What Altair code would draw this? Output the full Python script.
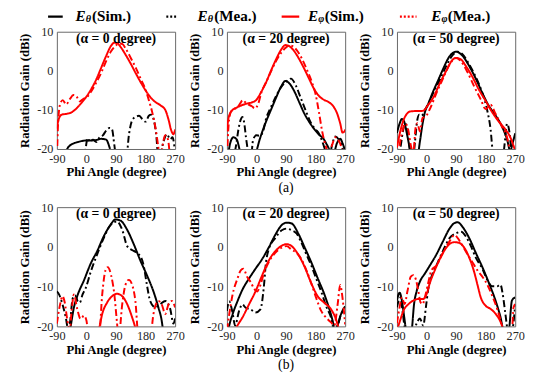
import altair as alt
import pandas as pd

SERIF = "Liberation Serif, Times New Roman, DejaVu Serif, serif"
SERIES = ["Eθ (Sim.)", "Eθ (Mea.)", "Eφ (Sim.)", "Eφ (Mea.)"]
COLORS = ["#000000", "#000000", "#ff0000", "#ff0000"]
DASHES = [[1, 0], [7, 3, 2, 3], [1, 0], [7, 3, 2, 3]]
X_TICKS = [-90, 0, 90, 180, 270]
Y_TICKS = [-20, -10, 0, 10]

# ---------------- (a) alpha = 0 ----------------
a1_ts_x = [-70, -55, -40, -25, -10, 0, 15, 30, 45, 60, 70, 80]
a1_ts_y = [-22, -19.5, -18.6, -18.2, -17.9, -17.8, -17.8, -17.7, -17.4, -17.6, -19.5, -23]
a1_tm_x = [-5, 0, 5, 10, 20, 30, 40, 50, 60, 70, 78, 85, 92, 120, 130, 140, 150, 160, 170, 180, 190, 197, 205, 212, 220, 235, 245, 255, 262, 270]
a1_tm_y = [-23, -18.5, -17.2, -18.2, -17.6, -18.2, -17.0, -16.5, -15.3, -14.6, -15.0, -19, -23, -23, -16, -12.5, -11.8, -11.5, -12.3, -13.0, -11.5, -11.2, -12.5, -16, -23, -18, -16.2, -17.5, -17, -21]
a1_ps_x = [-90, -85, -75, -60, -45, -30, -15, 0, 15, 30, 45, 60, 75, 85, 95, 105, 120, 135, 150, 165, 180, 195, 210, 225, 240, 250, 258, 265, 270]
a1_ps_y = [-14.8, -12.5, -11.2, -11.0, -10.6, -9.6, -8.2, -6.6, -4.6, -2.2, 0.8, 3.8, 6.4, 7.2, 7.0, 6.0, 4.0, 1.8, -0.6, -2.9, -5.0, -6.8, -8.0, -8.8, -10.0, -12.5, -15.2, -16.2, -15]
a1_pm_x = [-90, -86, -80, -72, -62, -50, -40, -30, -20, -10, 0, 15, 30, 45, 60, 75, 90, 100, 110, 120, 135, 150, 165, 180, 190, 200, 210, 218, 225, 232, 240, 248, 255]
a1_pm_y = [-23, -13, -8.5, -7.5, -8.6, -7.2, -6.2, -6.6, -7.8, -7.2, -6.8, -5.2, -3.0, -0.5, 2.5, 5.0, 6.5, 7.0, 6.8, 5.6, 3.3, 0.8, -2.0, -4.8, -7.5, -10.5, -14.5, -19, -23, -19, -16.5, -17.5, -23]

# ---------------- (a) alpha = 20 ----------------
a2_ts_x = [-88, -80, -70, -60, -52, -45, -20, -2, 10, 20, 30, 45, 60, 75, 88, 100, 115, 130, 145, 160, 175, 190, 205, 215, 225, 235, 245, 255, 262, 270]
a2_ts_y = [-23, -18.5, -17.0, -17.6, -20, -23, -23, -21, -17.5, -15.0, -12.8, -9.8, -6.8, -4.0, -2.6, -3.2, -5.2, -8.0, -10.8, -13.0, -14.8, -16.3, -17.5, -19, -20.5, -21, -18.5, -17.4, -18.5, -20.5]
a2_tm_x = [-88, -75, -62, -55, -48, -43, -38, -32, -26, -18, -10, 0, 10, 20, 30, 40, 50, 60, 75, 90, 105, 120, 135, 150, 165, 180, 190, 200, 210, 220, 230, 240, 250, 260, 268]
a2_tm_y = [-23, -23, -19, -15, -12.5, -11.8, -13.0, -17, -20.5, -23, -17.5, -16.5, -16.6, -15.5, -12.0, -10, -8.2, -6.4, -4.2, -2.8, -2.0, -3.8, -7.0, -10.2, -13.2, -15.0, -16.0, -18, -20.5, -23, -19, -16.8, -17.5, -19, -23]
a2_ps_x = [-90, -85, -75, -60, -45, -30, -15, 0, 15, 30, 45, 60, 75, 88, 100, 115, 130, 145, 160, 175, 190, 205, 220, 235, 245, 255, 262, 268, 270]
a2_ps_y = [-15.5, -12, -10.2, -9.4, -8.8, -8.4, -8.1, -7.4, -5.3, -2.8, 0.2, 3.0, 5.4, 6.6, 6.3, 5.0, 3.0, 0.6, -2.0, -4.6, -6.4, -7.4, -8.0, -9.2, -10.8, -13.5, -15.8, -15.5, -15]
a2_pm_x = [-90, -85, -78, -70, -60, -50, -42, -35, -25, -15, -5, 5, 15, 30, 45, 60, 75, 90, 100, 110, 125, 140, 155, 170, 180, 190, 200, 210, 220, 230, 240, 250, 258, 265]
a2_pm_y = [-23, -14, -10.5, -9.8, -9.5, -8.4, -7.5, -8.0, -8.6, -9.0, -9.6, -8.5, -5.5, -2.8, 0.0, 2.6, 4.6, 6.0, 6.5, 6.3, 5.0, 2.8, 0.0, -3.2, -6.0, -10.5, -15.5, -19, -21, -19, -17, -17.8, -19.5, -23]

# ---------------- (a) alpha = 50 ----------------
a3_ts_x = [-90, -82, -75, -68, -60, -52, -45, -30, -20, -12, -5, 5, 20, 35, 50, 70, 90, 110, 130, 150, 170, 190, 210, 230, 245, 255, 262, 270]
a3_ts_y = [-15.9, -13.5, -12.3, -13.0, -16, -19.5, -23, -23, -18, -13.5, -10.6, -8.5, -5.3, -2.5, 0.4, 3.7, 4.9, 3.8, 1.2, -2.0, -5.7, -9.0, -11.4, -14.3, -17.5, -20.5, -18.5, -16]
a3_tm_x = [-90, -80, -72, -65, -58, -50, -42, -35, -28, -22, -15, -5, 5, 20, 40, 60, 80, 95, 110, 130, 150, 170, 185, 195, 202, 210, 230, 240, 245, 252, 260]
a3_tm_y = [-23, -20, -15.5, -13.4, -16, -20.5, -23, -18, -12.5, -11.2, -11.5, -10.0, -8.5, -5.7, -2.4, 1.2, 4.1, 4.9, 4.2, 1.6, -1.6, -5.7, -10.2, -15, -21, -23, -23, -17, -13.5, -15.5, -23]
a3_ps_x = [-90, -80, -70, -60, -50, -35, -20, -10, 5, 20, 40, 60, 80, 90, 105, 120, 140, 160, 180, 200, 220, 240, 255, 265, 270]
a3_ps_y = [-19.6, -15.5, -12.6, -11, -10.4, -10.3, -10.3, -10.2, -8.7, -6.9, -3.3, 0, 2.9, 3.3, 2.9, 1.2, -1.6, -4.9, -7.7, -10.6, -13, -15, -17, -19.2, -20.5]
a3_pm_x = [-88, -80, -72, -64, -56, -48, -40, -34, -28, -20, -12, -4, 10, 30, 50, 70, 90, 105, 125, 145, 165, 180, 188, 195, 210, 230, 245, 255]
a3_pm_y = [-23, -18, -15, -13.5, -15, -19, -21, -15, -13.4, -15.5, -12, -11.8, -9.8, -5.7, -2, 1.6, 3.3, 2.4, -0.4, -4, -7.3, -9.8, -9.2, -8.7, -11, -14.3, -17, -21]

# ---------------- (b) alpha = 0 ----------------
b1_ts_x = [-55, -48, -38, -28, -7, 13, 33, 53, 73, 88, 104, 124, 144, 164, 184, 204, 219, 229, 236]
b1_ts_y = [-23, -20, -15.2, -12.4, -8.3, -4.2, -1.0, 2.7, 5.5, 6.9, 6.6, 4.3, 0.7, -3.4, -7.1, -11.2, -15.2, -18.5, -23]
b1_tm_x = [-90, -83, -73, -63, -56, -50, -42, -34, -27, -20, -12, -2, 13, 33, 53, 73, 93, 109, 124, 144, 159, 174, 184, 194, 209, 225, 240, 255, 265, 270]
b1_tm_y = [-11.2, -12, -14.4, -17.7, -20.5, -19, -13, -12.2, -13.6, -14, -12, -10.3, -6.3, -1.8, 2.3, 5.5, 6.4, 4.3, 0.2, -1, -1.8, -4.6, -9.5, -13.6, -15.2, -14.4, -13.6, -15.6, -19.3, -18]
b1_ps_x = [30, 40, 48, 63, 78, 93, 109, 124, 139, 149, 155]
b1_ps_y = [-23, -20, -16.9, -14, -12.4, -11.8, -12.4, -14.4, -17.7, -20.5, -23]
b1_pm_x = [-90, -80, -73, -66, -58, -51, -44, -38, -28, -18, -7, 0, 8, 38, 48, 58, 65, 75, 85, 93, 98, 109, 119, 129, 139, 149, 159, 194, 204, 219, 229, 240, 250, 260, 270]
b1_pm_y = [-19.3, -14.4, -12.4, -14, -18.5, -21, -15, -12, -15.6, -18.1, -17.3, -18.5, -23, -23, -12, -5.9, -5.1, -7.1, -12, -19, -23, -14.4, -9.5, -8.3, -9.5, -13.6, -23, -23, -16.9, -13.6, -14.4, -16.9, -14.4, -13.6, -15.2]

# ---------------- (b) alpha = 20 ----------------
b2_ts_x = [-90, -83, -73, -58, -43, -23, -3, 17, 37, 57, 77, 92, 107, 127, 147, 167, 187, 207, 222, 232, 239, 248, 257, 267, 270]
b2_ts_y = [-23, -19.8, -17, -13.7, -10.8, -8, -5.5, -3.1, -0.2, 3.0, 5.5, 6.1, 5.9, 3.4, -0.2, -3.9, -8, -12, -15.7, -18.6, -21, -19.5, -17, -15.3, -15]
b2_tm_x = [-90, -83, -73, -65, -53, -43, -33, -18, -3, 12, 22, 29, 37, 57, 77, 92, 107, 122, 137, 152, 167, 182, 197, 212, 227, 237, 247, 257, 267, 270]
b2_tm_y = [-16.1, -13.7, -16.5, -19.8, -16.1, -14.5, -15.3, -15.7, -16.5, -15.7, -10.4, -3.9, -0.7, 2.2, 4.2, 4.6, 4.2, 3.4, 1.0, -1.9, -4.7, -8, -11.2, -14.9, -17.8, -21, -19.8, -17, -16.1, -16]
b2_ps_x = [-90, -84, -75, -58, -43, -23, -3, 17, 37, 57, 77, 92, 107, 127, 147, 167, 187, 207, 227, 242, 252, 260]
b2_ps_y = [-19.4, -21, -23, -19.8, -17.8, -14.5, -11.2, -7.2, -3.5, -1.1, 0.3, 0.7, 0.2, -1.9, -5.1, -9.2, -12.5, -14.1, -15.7, -18.2, -21, -23]
b2_pm_x = [-90, -83, -73, -58, -48, -40, -28, -18, -8, 2, 12, 22, 37, 57, 77, 92, 107, 122, 137, 152, 167, 182, 197, 212, 227, 237, 247, 255, 262, 270]
b2_pm_y = [-21, -17, -12.1, -8, -5.9, -5.5, -7.6, -8.8, -10.4, -11.2, -9.6, -6.8, -3.9, -1.5, -0.2, 0.2, -0.7, -1.5, -3.1, -5.9, -9.2, -12.9, -16.1, -17.8, -19, -19.8, -14.5, -9.6, -12.9, -19.5]

# ---------------- (b) alpha = 50 ----------------
b3_ts_x = [-90, -82, -75, -68, -62, -50, -45, -38, -30, -20, -5, 10, 30, 50, 70, 85, 95, 110, 130, 150, 170, 190, 210, 225, 235, 250, 260, 270]
b3_ts_y = [-13.5, -11.5, -13.5, -17.6, -21, -23, -21, -14.4, -11.1, -8.7, -6.7, -4.7, -1.9, 1.4, 4.6, 6.0, 6.2, 5.0, 2.2, -1.5, -5.1, -9.1, -13.5, -17.6, -21, -21, -13.5, -12.7]
b3_tm_x = [-90, -80, -72, -65, -45, -30, -20, -10, -2, 5, 15, 30, 50, 70, 90, 105, 120, 135, 150, 170, 185, 200, 215, 225, 232, 240, 248, 260, 270]
b3_tm_y = [-15.2, -12.7, -16.8, -21, -23, -19.2, -18, -19.8, -15.2, -10.7, -7.5, -4.7, -1, 2.2, 3.4, 3.8, 2.6, 0.2, -2.7, -5.5, -8.3, -9.9, -9.9, -9.5, -11.9, -16.8, -21, -21, -14.4]
b3_ps_x = [-90, -80, -70, -55, -40, -25, -10, 0, 10, 25, 40, 60, 75, 85, 100, 115, 130, 145, 155, 165, 180, 195, 210, 225, 235, 245]
b3_ps_y = [-21, -18.4, -16, -14.4, -13.5, -13.1, -13.1, -11.9, -9.1, -5.9, -3.1, -0.2, 1.0, 1.2, 1.0, -0.2, -2.7, -6.3, -9.5, -12.7, -14.8, -15.6, -16.8, -18.8, -21, -23]
b3_pm_x = [-90, -82, -75, -67, -58, -48, -40, -32, -25, -18, -12, -5, 5, 15, 30, 50, 70, 85, 95, 110, 125, 140, 155, 170, 185, 200, 215, 225, 232, 245, 260, 265, 270]
b3_pm_y = [-19.2, -15.2, -12.7, -14.4, -11.1, -7.5, -7.1, -8.3, -11.1, -14, -14.4, -12.7, -9.1, -5.9, -4.7, -1.5, 1.4, 3.0, 2.2, 0.2, -1.9, -3.9, -5.9, -7.5, -9.5, -12.3, -15.6, -18.4, -21, -23, -21, -15.2, -14.4]

ALPHAS = [0, 20, 50, 0, 20, 50]
SUB_LABELS = ["(a)", "(b)"]

W = 121
HEIGHTS = [120, 120, 120, 122, 122, 122]
xs = alt.Scale(domain=[-90, 270], nice=False, zero=False)
ys = alt.Scale(domain=[-20, 10], nice=False, zero=False)
cs = alt.Scale(domain=SERIES, range=COLORS)
ds = alt.Scale(domain=SERIES, range=DASHES)


def panel_df(p):
    g = globals()
    parts = []
    for key, name in zip(["ts", "tm", "ps", "pm"], SERIES):
        parts.append(pd.DataFrame({"phi": g[f"{p}_{key}_x"], "gain": g[f"{p}_{key}_y"], "series": name}))
    return pd.concat(parts, ignore_index=True)


def text_layer(txt, x, y, size, weight="bold", style="normal", align="center", color="black"):
    return alt.Chart(pd.DataFrame({"t": [txt]})).mark_text(
        font=SERIF, fontSize=size, fontWeight=weight, fontStyle=style,
        align=align, baseline="middle", color=color
    ).encode(text="t:N", x=alt.value(x), y=alt.value(y))


def legend_layers():
    ly = -15.5
    items = [  # (series, line x1, line x2, text x, subscript, measured)
        (SERIES[0], -9, 6, 19, "θ", False),
        (SERIES[1], 112, 122, 144, "θ", True),
        (SERIES[2], 230, 248, 257, "φ", False),
        (SERIES[3], 351, 368, 383, "φ", True),
    ]
    layers = []
    for s, x1, x2, tx, sub, dotted in items:
        rule = alt.Chart(pd.DataFrame({"series": [s]})).mark_rule(strokeWidth=2.2).encode(
            x=alt.value(x1), x2=alt.value(x2), y=alt.value(ly),
            color=alt.Color("series:N", scale=cs, legend=None),
            strokeDash=alt.value([2, 2] if dotted else [1, 0]),
        )
        layers.append(rule)
        layers.append(text_layer("E", tx, ly, 15.5, style="italic", align="left"))
        layers.append(text_layer(sub, tx + 10.5, ly + 3, 10.5, style="italic", align="left"))
        layers.append(text_layer("(Mea.)" if dotted else "(Sim.)", tx + 17, ly, 15.5, align="left"))
    return layers


def panel(i):
    p = ["a1", "a2", "a3", "b1", "b2", "b3"][i]
    H = HEIGHTS[i]
    df = panel_df(p)
    lines = alt.Chart(df).mark_line(clip=True, strokeWidth=2, interpolate="monotone").encode(
        x=alt.X("phi:Q", scale=xs, axis=alt.Axis(values=X_TICKS, title="Phi Angle (degree)")),
        y=alt.Y("gain:Q", scale=ys, axis=alt.Axis(values=Y_TICKS, title="Radiation Gain (dBi)")),
        color=alt.Color("series:N", scale=cs, legend=None),
        strokeDash=alt.StrokeDash("series:N", scale=ds, legend=None),
        detail="series:N",
    )
    layers = [lines, text_layer(f"(α = {ALPHAS[i]} degree)", W / 2, 7.5, 14)]
    if i == 0:
        layers += legend_layers()
    if i == 1:
        layers.append(text_layer(SUB_LABELS[0], W / 2, H + 39.5, 14, weight="normal"))
    if i == 4:
        layers.append(text_layer(SUB_LABELS[1], W / 2, H + 39.5, 14, weight="normal"))
    return alt.layer(*layers).properties(width=W, height=H)


chart = alt.concat(
    *[panel(i) for i in range(6)], columns=3,
    spacing={"row": 59.5, "column": 53}, bounds="flush"
).properties(
    padding={"left": 10, "top": -3, "right": 0, "bottom": 0}
).configure_view(
    stroke="#666666", strokeWidth=1
).configure_axis(
    grid=False, domain=False, ticks=False, labelFlush=False,
    labelExpr="'' + datum.value",
    labelFont=SERIF, labelFontSize=12.5, labelColor="#262626", labelPadding=4,
    titleFont=SERIF, titleFontSize=13, titleFontWeight="bold", titleColor="#000000",
).configure_axisY(titlePadding=5).configure_axisX(titlePadding=1.5, labelPadding=3.5)

chart.save("out.html", embed_options={"renderer": "svg", "actions": False})
